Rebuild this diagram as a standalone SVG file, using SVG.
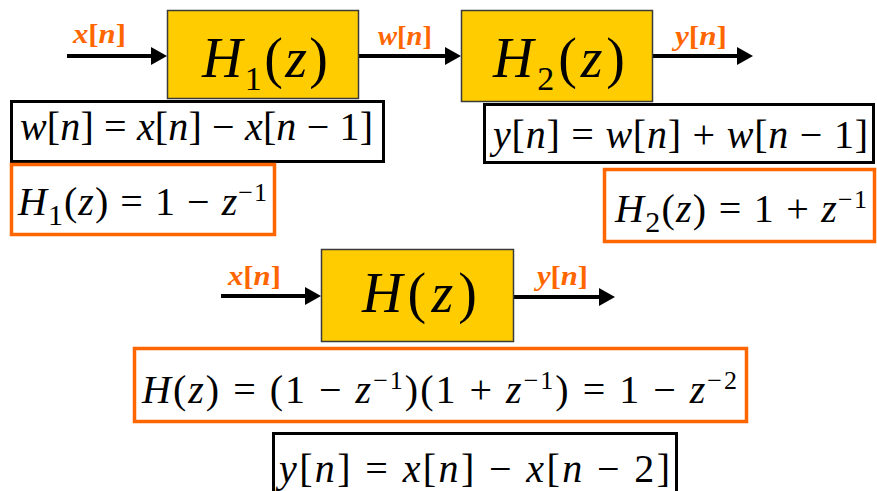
<svg xmlns="http://www.w3.org/2000/svg" width="877" height="491" viewBox="0 0 877 491">
<defs>
<marker id="ah" markerUnits="userSpaceOnUse" markerWidth="16" markerHeight="18" refX="6" refY="9" orient="auto">
<path d="M0,0 L16,9 L0,18 z" fill="#000"/>
</marker>
<style>
text{font-family:"Liberation Serif","Times New Roman",Times,"Nimbus Roman","DejaVu Serif","Noto Serif",serif}
.blk{fill:#FFCC00;stroke:#3a3a3a;stroke-width:1.5}
.eqb{fill:#fff;stroke:#000;stroke-width:3}
.eqo{fill:#fff;stroke:#FF6600;stroke-width:3.5}
.conn line{stroke:#000;stroke-width:4;marker-end:url(#ah)}
.big{font-size:56px}
.eq{font-size:40px}
.i{font-style:italic}
.lab{font-size:28px;font-weight:bold;fill:#FF6600}
</style>
</defs>
<rect width="877" height="491" fill="#fff"/>

<g id="conn" class="conn">
<line x1="67" y1="56" x2="157" y2="56"/>
<line x1="359" y1="56" x2="451" y2="56"/>
<line x1="653" y1="56" x2="743" y2="56"/>
<line x1="221" y1="296" x2="311" y2="296"/>
<line x1="514" y1="297" x2="605" y2="297"/>
</g>

<g id="labels">
<text class="lab" x="73" y="43" textLength="53" lengthAdjust="spacingAndGlyphs"><tspan class="i">x</tspan>[<tspan class="i">n</tspan>]</text>
<text class="lab" x="378" y="45" textLength="54" lengthAdjust="spacingAndGlyphs"><tspan class="i">w</tspan>[<tspan class="i">n</tspan>]</text>
<text class="lab" x="675" y="45" textLength="52" lengthAdjust="spacingAndGlyphs"><tspan class="i">y</tspan>[<tspan class="i">n</tspan>]</text>
<text class="lab" x="228" y="285" textLength="53" lengthAdjust="spacingAndGlyphs"><tspan class="i">x</tspan>[<tspan class="i">n</tspan>]</text>
<text class="lab" x="537" y="285" textLength="51" lengthAdjust="spacingAndGlyphs"><tspan class="i">y</tspan>[<tspan class="i">n</tspan>]</text>
</g>

<g id="H1">
<rect class="blk" x="167.5" y="10.5" width="191" height="88"/>
<text class="big" x="202" y="77" textLength="126" lengthAdjust="spacing"><tspan class="i">H</tspan><tspan font-size="34" dy="13">1</tspan><tspan dy="-13">(</tspan><tspan class="i">z</tspan>)</text>
</g>

<g id="H2">
<rect class="blk" x="461.5" y="10.5" width="191" height="91"/>
<text class="big" x="493" y="77" textLength="132" lengthAdjust="spacing"><tspan class="i">H</tspan><tspan font-size="34" dy="13">2</tspan><tspan dy="-13">(</tspan><tspan class="i">z</tspan>)</text>
</g>

<g id="H">
<rect class="blk" x="321.5" y="249.5" width="192" height="92"/>
<text class="big" x="362" y="312" textLength="115" lengthAdjust="spacing"><tspan class="i">H</tspan>(<tspan class="i">z</tspan>)</text>
</g>

<g id="eq-w">
<rect class="eqb" x="11.5" y="101.5" width="372" height="60"/>
<text class="eq" x="20" y="140" textLength="353" lengthAdjust="spacing"><tspan class="i">w</tspan>[<tspan class="i">n</tspan>] = <tspan class="i">x</tspan>[<tspan class="i">n</tspan>] − <tspan class="i">x</tspan>[<tspan class="i">n</tspan> − 1]</text>
</g>

<g id="eq-H1">
<rect class="eqo" x="11.5" y="164.5" width="263" height="70"/>
<text class="eq" x="18" y="215" textLength="249" lengthAdjust="spacing"><tspan class="i">H</tspan><tspan font-size="30" dy="10">1</tspan><tspan dy="-10">(</tspan><tspan class="i">z</tspan>) = 1 − <tspan class="i">z</tspan><tspan font-size="26" dy="-14">−1</tspan></text>
</g>

<g id="eq-y">
<rect class="eqb" x="484.5" y="104.5" width="389" height="58"/>
<text class="eq" x="493" y="148" textLength="375" lengthAdjust="spacing"><tspan class="i">y</tspan>[<tspan class="i">n</tspan>] = <tspan class="i">w</tspan>[<tspan class="i">n</tspan>] + <tspan class="i">w</tspan>[<tspan class="i">n</tspan> − 1]</text>
</g>

<g id="eq-H2">
<rect class="eqo" x="604.5" y="169.5" width="270" height="72"/>
<text class="eq" x="615" y="222" textLength="252" lengthAdjust="spacing"><tspan class="i">H</tspan><tspan font-size="30" dy="10">2</tspan><tspan dy="-10">(</tspan><tspan class="i">z</tspan>) = 1 + <tspan class="i">z</tspan><tspan font-size="26" dy="-14">−1</tspan></text>
</g>

<g id="eq-H">
<rect class="eqo" x="134.5" y="348.5" width="612" height="73"/>
<text class="eq" x="142" y="403" textLength="595" lengthAdjust="spacing"><tspan class="i">H</tspan>(<tspan class="i">z</tspan>) = (1 − <tspan class="i">z</tspan><tspan font-size="26" dy="-14">−1</tspan><tspan dy="14">)(1 + </tspan><tspan class="i">z</tspan><tspan font-size="26" dy="-14">−1</tspan><tspan dy="14">) = 1 − </tspan><tspan class="i">z</tspan><tspan font-size="26" dy="-14">−2</tspan></text>
</g>

<g id="eq-y2">
<rect class="eqb" x="273.5" y="433.5" width="403" height="70"/>
<text class="eq" x="279" y="482" textLength="391" lengthAdjust="spacing"><tspan class="i">y</tspan>[<tspan class="i">n</tspan>] = <tspan class="i">x</tspan>[<tspan class="i">n</tspan>] − <tspan class="i">x</tspan>[<tspan class="i">n</tspan> − 2]</text>
</g>
</svg>
